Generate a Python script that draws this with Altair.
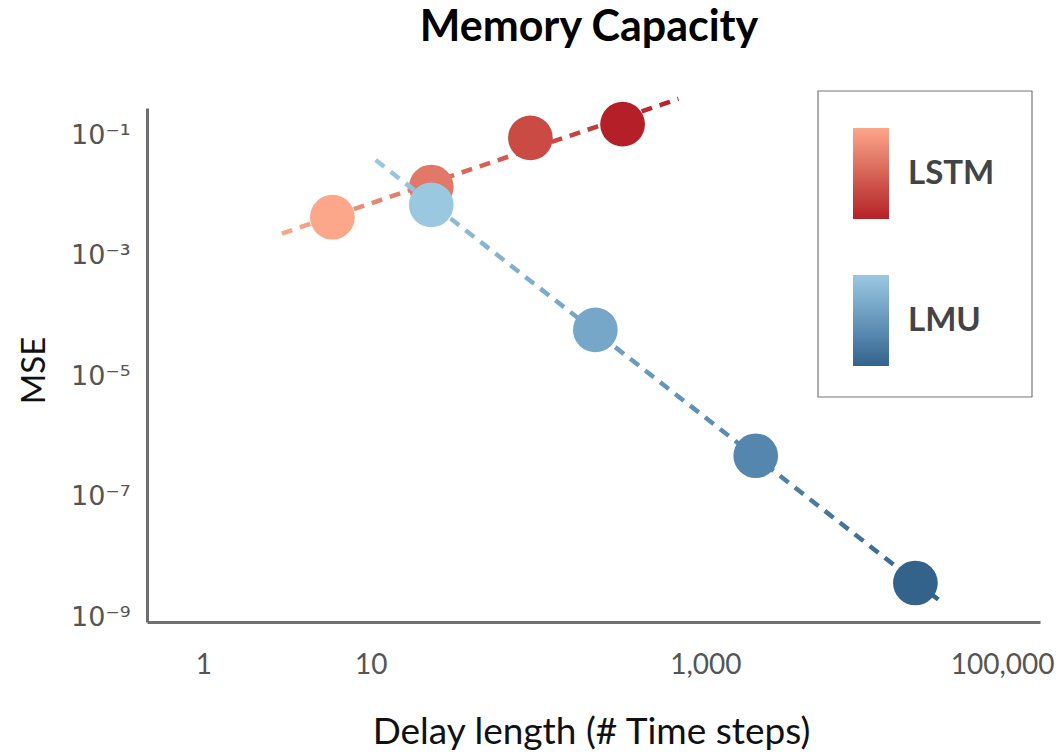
import altair as alt
import pandas as pd

# Delay length (time steps) and mean squared error for each model
lstm_delay = [5.9, 23, 90, 320]
lstm_mse = [4.0e-3, 1.27e-2, 8.3e-2, 0.14]
lmu_delay = [23, 220, 2000, 18000]
lmu_mse = [6.4e-3, 5.4e-5, 4.4e-7, 3.4e-9]

# Colour ramps, light (short delay) to dark (long delay)
lstm_colors = ["#fca68a", "#e27a69", "#cb4c46", "#b51f27"]
lmu_colors = ["#9bc8e1", "#78a8c8", "#5586ad", "#33628b"]

# Reach of the fitted power-law trend lines
lstm_fit_extent = [2.94, 690]
lmu_fit_extent = [10.7, 25600]

x_ticks = [1, 10, 1000, 100000]
y_ticks = [1e-9, 1e-7, 1e-5, 1e-3, 1e-1]

chart_title = "Memory Capacity"

lstm = pd.DataFrame({"delay": lstm_delay, "mse": lstm_mse})
lmu = pd.DataFrame({"delay": lmu_delay, "mse": lmu_mse})

x_enc = alt.X(
    "delay:Q",
    scale=alt.Scale(type="log", domain=[0.46, 100000]),
    axis=alt.Axis(
        values=x_ticks,
        format=",",
        title="Delay length (# Time steps)",
        labelFlush=True,
        labelFlushOffset=14,
        labelPadding=29,
        labelFont="Lato",
        labelFontSize=28,
        labelColor="#555555",
        titleFont="Lato",
        titleFontSize=37,
        titleFontWeight="normal",
        titleColor="#111111",
        titleX=444,
        titleY=121,
        titleBaseline="alphabetic",
    ),
)
y_enc = alt.Y(
    "mse:Q",
    scale=alt.Scale(type="log", domain=[7.66e-10, 0.26]),
    axis=alt.Axis(
        values=y_ticks,
        labelExpr=(
            "datum.value < 1e-8 ? '10⁻⁹' : datum.value < 1e-6 ? '10⁻⁷' : "
            "datum.value < 1e-4 ? '10⁻⁵' : datum.value < 1e-2 ? '10⁻³' : '10⁻¹'"
        ),
        labelPadding=17,
        labelFont="DejaVu Sans",
        labelFontSize=27,
        labelColor="#555555",
        labelBaseline="middle",
        labelOffset=2,
        title="MSE",
        titleFont="Lato",
        titleFontSize=33,
        titleFontWeight="normal",
        titleColor="#111111",
        titleAngle=-90,
        titleX=-113,
        titleY=262,
        titleBaseline="middle",
        titleAlign="center",
    ),
)


def line_gradient(colors):
    n = len(colors) - 1
    return alt.LinearGradient(
        gradient="linear",
        stops=[alt.GradientStop(color=c, offset=i / n) for i, c in enumerate(colors)],
        x1=0, x2=1, y1=0, y2=0,
    )


def legend(name, delays, y):
    # One label, at the middle of the gradient, carries the series name
    mid = (min(delays) * max(delays)) ** 0.5
    return alt.Legend(
        title=None,
        orient="none",
        legendX=706,
        legendY=y,
        values=[mid],
        labelExpr=f"'{name}'",
        labelOffset=19,
        labelFont="Lato",
        labelFontSize=33,
        labelFontWeight="bold",
        labelColor="#444444",
        labelLimit=300,
        gradientLength=91,
        gradientThickness=36,
        gradientStrokeWidth=0,
        padding=0,
    )


# Colour scales run from the longest delay to the shortest, so that each
# gradient legend shows the light end on top
lstm_pts = (
    alt.Chart(lstm)
    .mark_circle(size=2000, opacity=1)
    .encode(
        x=x_enc,
        y=y_enc,
        color=alt.Color(
            "delay:Q",
            scale=alt.Scale(
                type="log",
                domain=[max(lstm_delay), min(lstm_delay)],
                range=lstm_colors[::-1],
            ),
            legend=legend("LSTM", lstm_delay, 20),
        ),
    )
)
lmu_pts = (
    alt.Chart(lmu)
    .mark_circle(size=2000, opacity=1)
    .encode(
        x=x_enc,
        y=y_enc,
        fill=alt.Fill(
            "delay:Q",
            scale=alt.Scale(
                type="log",
                domain=[max(lmu_delay), min(lmu_delay)],
                range=lmu_colors[::-1],
            ),
            legend=legend("LMU", lmu_delay, 167),
        ),
    )
)
lstm_line = (
    alt.Chart(lstm)
    .transform_regression("delay", "mse", method="pow", extent=lstm_fit_extent)
    .mark_line(strokeDash=[11, 8], strokeWidth=4.5, stroke=line_gradient(lstm_colors))
    .encode(x=x_enc, y=y_enc)
)
lmu_line = (
    alt.Chart(lmu)
    .transform_regression("delay", "mse", method="pow", extent=lmu_fit_extent)
    .mark_line(strokeDash=[11, 8], strokeWidth=4.5, stroke=line_gradient(lmu_colors))
    .encode(x=x_enc, y=y_enc)
)

# Frame drawn around the two legends
legend_box = (
    alt.Chart(lstm.head(1))
    .mark_rect(fill="white", fillOpacity=0, stroke="#777777", strokeWidth=1.2)
    .encode(
        x=alt.value(671), x2=alt.value(885),
        y=alt.value(-17), y2=alt.value(289),
    )
)

# Chart heading, set above the plot area
heading = (
    alt.Chart(lstm.head(1))
    .mark_text(
        text=chart_title,
        font="Lato",
        fontSize=43,
        fontWeight="bold",
        color="#000000",
        align="center",
        baseline="alphabetic",
    )
    .encode(x=alt.value(442), y=alt.value(-67))
)

chart = (
    alt.layer(heading, legend_box, lstm_line, lstm_pts, lmu_line, lmu_pts)
    .resolve_scale(color="independent", fill="independent")
    .properties(
        width=893,
        height=514,
        autosize=alt.AutoSizeParams(type="none"),
        padding={"left": 147, "top": 108, "right": 19, "bottom": 132},
    )
    .configure_view(stroke=None)
    .configure_axis(
        grid=False,
        ticks=False,
        domainColor="#6e6e6e",
        domainWidth=3,
    )
)

chart.save("out.html", embed_options={"renderer": "svg", "actions": False})
